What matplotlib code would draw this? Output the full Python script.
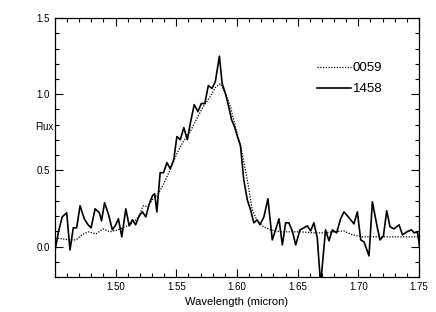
import matplotlib
matplotlib.use('Agg')
import matplotlib.pyplot as plt
from matplotlib.ticker import MultipleLocator

# spectrum 1458 (solid)
wl_1458 = [1.4500, 1.4529, 1.4560, 1.4597, 1.4624, 1.4651, 1.4679, 1.4707, 1.4742, 1.4773,
           1.4798, 1.4831, 1.4866, 1.4884, 1.4909, 1.4940, 1.4973, 1.5001, 1.5023, 1.5051,
           1.5084, 1.5112, 1.5139, 1.5165, 1.5194, 1.5221, 1.5249, 1.5277, 1.5304, 1.5322,
           1.5340, 1.5367, 1.5395, 1.5423, 1.5450, 1.5479, 1.5505, 1.5533, 1.5562, 1.5591,
           1.5620, 1.5648, 1.5678, 1.5706, 1.5735, 1.5764, 1.5795, 1.5822, 1.5855, 1.5878,
           1.5905, 1.5932, 1.5955, 1.5982, 1.6004, 1.6029, 1.6056, 1.6085, 1.6112, 1.6139,
           1.6167, 1.6189, 1.6222, 1.6255, 1.6291, 1.6318, 1.6346, 1.6374, 1.6401, 1.6428,
           1.6456, 1.6484, 1.6519, 1.6552, 1.6580, 1.6607, 1.6634, 1.6662, 1.6689, 1.6730,
           1.6758, 1.6786, 1.6821, 1.6854, 1.6882, 1.6910, 1.6937, 1.6964, 1.6992, 1.7020,
           1.7047, 1.7088, 1.7116, 1.7157, 1.7179, 1.7207, 1.7234, 1.7261, 1.7294, 1.7336,
           1.7364, 1.7400, 1.7438, 1.7460, 1.7488, 1.7508]
flux_1458 = [-0.028, 0.097, 0.195, 0.222, -0.022, 0.123, 0.123, 0.268, 0.182, 0.143,
             0.123, 0.248, 0.222, 0.169, 0.288, 0.215, 0.110, 0.143, 0.182, 0.064,
             0.248, 0.136, 0.176, 0.143, 0.202, 0.228, 0.195, 0.281, 0.334, 0.347,
             0.228, 0.485, 0.485, 0.551, 0.511, 0.570, 0.722, 0.702, 0.781, 0.702,
             0.827, 0.932, 0.886, 0.939, 0.939, 1.057, 1.038, 1.084, 1.250, 1.070,
             1.005, 0.919, 0.834, 0.781, 0.722, 0.662, 0.439, 0.307, 0.241, 0.156,
             0.176, 0.143, 0.195, 0.314, 0.044, 0.110, 0.182, 0.011, 0.156, 0.156,
             0.103, 0.011, 0.110, 0.123, 0.136, 0.103, 0.156, 0.057, -0.250, 0.110,
             0.038, 0.110, 0.090, 0.182, 0.228, 0.202, 0.176, 0.149, 0.228, 0.044,
             0.031, -0.061, 0.294, 0.123, 0.044, 0.070, 0.235, 0.130, 0.116, 0.143,
             0.077, 0.097, 0.110, 0.090, 0.097, -0.022]

# spectrum 0059 (dotted)
wl_0059 = [1.4500, 1.4558, 1.4624, 1.4674, 1.4723, 1.4773, 1.4839, 1.4897, 1.4954, 1.5021,
           1.5078, 1.5145, 1.5194, 1.5227, 1.5268, 1.5301, 1.5343, 1.5392, 1.5450, 1.5508,
           1.5557, 1.5615, 1.5673, 1.5723, 1.5780, 1.5822, 1.5863, 1.5905, 1.5946, 1.5987,
           1.6037, 1.6085, 1.6126, 1.6167, 1.6219, 1.6277, 1.6359, 1.6442, 1.6524, 1.6632,
           1.6714, 1.6797, 1.6879, 1.6953, 1.7036, 1.7127, 1.7210, 1.7325, 1.7416, 1.7508]
flux_0059 = [0.057, 0.051, 0.044, 0.044, 0.077, 0.097, 0.084, 0.116, 0.097, 0.110,
             0.130, 0.156, 0.202, 0.268, 0.261, 0.307, 0.334, 0.406, 0.505, 0.616,
             0.689, 0.755, 0.847, 0.919, 0.985, 1.044, 1.070, 1.005, 0.919, 0.788,
             0.636, 0.439, 0.241, 0.169, 0.130, 0.110, 0.097, 0.097, 0.097, 0.090,
             0.090, 0.097, 0.103, 0.077, 0.064, 0.064, 0.064, 0.064, 0.064, 0.064]

plt.rcParams['font.family'] = ['Liberation Sans', 'DejaVu Sans']

fig = plt.figure(figsize=(4.36, 3.12), dpi=100)
ax = fig.add_axes([0.126, 0.112, 0.835, 0.830])

ax.plot(wl_0059, flux_0059, color='black', lw=0.9, linestyle=(0, (1, 1.2)), label='0059')
ax.plot(wl_1458, flux_1458, color='black', lw=1.2, label='1458')

ax.set_xlim(1.45, 1.75)
ax.set_ylim(-0.2, 1.5)
ax.xaxis.set_major_locator(MultipleLocator(0.05))
ax.xaxis.set_minor_locator(MultipleLocator(0.01))
ax.yaxis.set_major_locator(MultipleLocator(0.5))
ax.yaxis.set_minor_locator(MultipleLocator(0.1))
ax.set_xticks([1.50, 1.55, 1.60, 1.65, 1.70, 1.75])
ax.set_xticklabels(['1.50', '1.55', '1.60', '1.65', '1.70', '1.75'])
ax.set_yticks([0.0, 0.5, 1.0, 1.5])
ax.set_yticklabels(['0.0', '0.5', '1.0', '1.5'])

ax.tick_params(which='both', direction='in', top=True, right=True, labelsize=7, width=0.8)
ax.tick_params(which='major', length=6)
ax.tick_params(which='minor', length=3)
for s in ax.spines.values():
    s.set_linewidth(0.9)

ax.set_xlabel('Wavelength (micron)', fontsize=8, labelpad=4)
ax.text(-0.005, 0.58, 'Flux', transform=ax.transAxes, ha='right', va='center', fontsize=7)

leg = ax.legend(loc='upper left', bbox_to_anchor=(0.72, 0.83), frameon=False,
                fontsize=9.5, handlelength=2.6, handletextpad=0.1, labelspacing=0.65,
                borderaxespad=0, borderpad=0)

fig.savefig('out.png', dpi=100)
